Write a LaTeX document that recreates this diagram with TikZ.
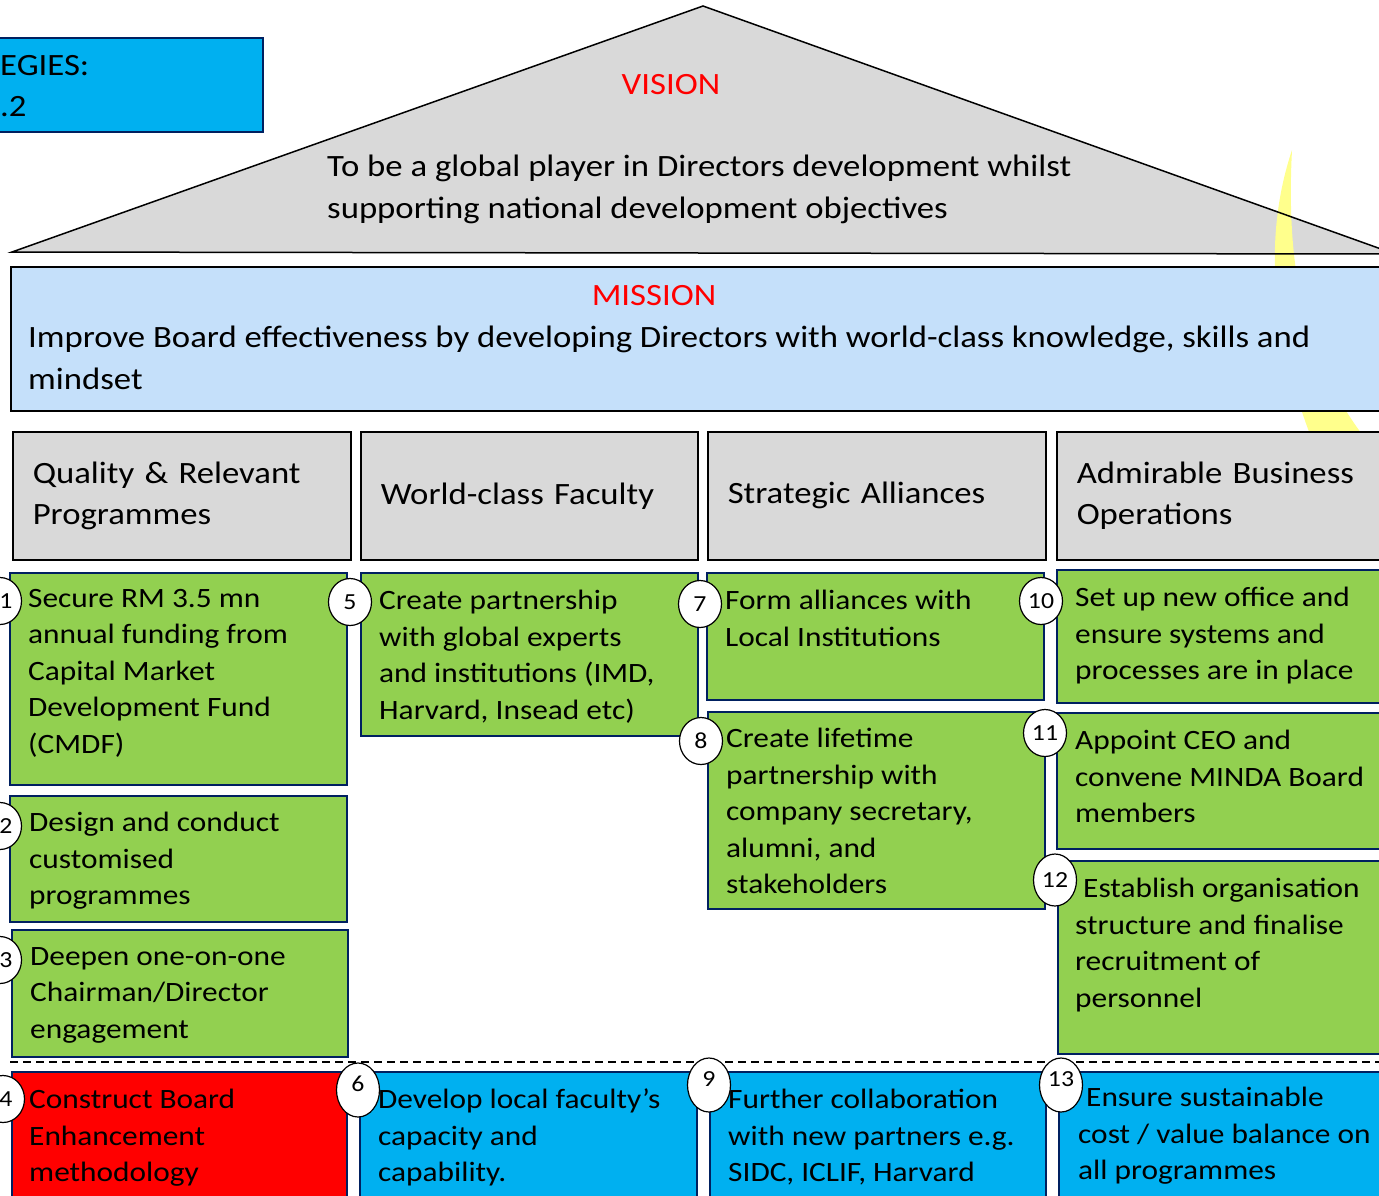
\documentclass[tikz,border=0pt]{standalone}
\usepackage{fontspec}
\setmainfont[FakeStretch=1.12]{Carlito}
\usetikzlibrary{shapes.geometric}
\definecolor{roofgray}{RGB}{217,217,217}
\definecolor{skyblue}{RGB}{197,224,250}
\definecolor{leaf}{RGB}{146,208,80}
\definecolor{cyanbox}{RGB}{0,176,240}
\definecolor{navy}{RGB}{0,32,96}
\definecolor{sun}{RGB}{255,255,140}
\tikzstyle{box}=[draw=navy,line width=2pt,anchor=north west,inner sep=0pt]
\tikzstyle{goal}=[box,fill=leaf]
\tikzstyle{later}=[box,fill=cyanbox]
\tikzstyle{urgent}=[box,fill=red]
\tikzstyle{pillar}=[draw,line width=1.5pt,fill=roofgray,anchor=north west,align=left,inner xsep=20pt,inner ysep=0pt,minimum height=128pt,font=\fontsize{31}{41}\selectfont]
\tikzstyle{txt}=[anchor=north west,inner sep=0pt,align=left,font=\fontsize{28}{36.5}\selectfont]
\tikzstyle{big}=[inner sep=0pt,align=left,font=\fontsize{31}{42}\selectfont]
\tikzstyle{num}=[ellipse,draw,fill=white,line width=1.2pt,minimum width=43pt,minimum height=47pt,inner sep=0pt,font=\fontsize{23}{23}\selectfont]
\tikzstyle{numtall}=[num,minimum height=54pt,text depth=12pt]

\begin{document}
\begin{tikzpicture}[x=1pt,y=-1pt]
\useasboundingbox (0,0) rectangle (1379,1195);
\clip (0,0) rectangle (1379,1195);

% roof with vision
\fill[roofgray] (12,252) -- (703,6) -- (1395,254) -- cycle;
\fill[sun] (1292,150) .. controls (1262,240) and (1272,340) .. (1316,450) -- (1374,450) .. controls (1318,380) and (1284,300) .. (1292,150);
\draw[line width=1.5pt] (12,252) -- (703,6) -- (1395,254) -- cycle;
\node[big,text=red] (vision) at (671,85) {VISION};
\node[big,anchor=north west] (visiontxt) at (327,155) {To be a global player in Directors development whilst\\supporting national development objectives};

% strategies tag
\node[box,fill=cyanbox,minimum width=272pt,minimum height=94pt] (tag) at (-10,37) {};
\node[big,anchor=west] (tag1) at (0,66) {EGIES:};
\node[big,anchor=west] (tag2) at (0,107) {.2};

% mission
\node[draw,line width=1.5pt,fill=skyblue,anchor=north west,minimum width=1390pt,minimum height=144pt] (mission) at (10,266) {};
\node[big,text=red] (missionhd) at (654,296) {MISSION};
\node[big,anchor=north west] (missiontxt) at ([shift={(18,60)}]mission.north west) {Improve Board effectiveness by developing Directors with world-class knowledge, skills and\\mindset};

% pillars
\node[pillar,text width=298pt] (p1) at (12,431) {Quality \& Relevant\\Programmes};
\node[pillar,text width=297pt] (p2) at (360,431) {World-class Faculty};
\node[pillar,text width=298pt] (p3) at (707,431) {Strategic Alliances};
\node[pillar,text width=300pt] (p4) at (1056,431) {Admirable Business\\Operations};

% green initiatives
\node[goal,minimum width=337pt,minimum height=212pt] (g1) at (9,572) {};
\node[txt] (t1) at ([shift={(19,17)}]g1.north west) {Secure RM 3.5 mn\\annual funding from\\Capital Market\\Development Fund\\(CMDF)};
\node[goal,minimum width=337pt,minimum height=126pt] (g2) at (9,795) {};
\node[txt] (t2) at ([shift={(20,17)}]g2.north west) {Design and conduct\\customised\\programmes};
\node[goal,minimum width=336pt,minimum height=127pt] (g3) at (11,929) {};
\node[txt] (t3) at ([shift={(19,18)}]g3.north west) {Deepen one-on-one\\Chairman/Director\\engagement};
\node[goal,minimum width=337pt,minimum height=163pt] (g5) at (360,572) {};
\node[txt] (t5) at ([shift={(19,18)}]g5.north west) {Create partnership\\with global experts\\and institutions (IMD,\\Harvard, Insead etc)};
\node[goal,minimum width=337pt,minimum height=127pt] (g7) at (706,572) {};
\node[txt] (t7) at ([shift={(19,18)}]g7.north west) {Form alliances with\\Local Institutions};
\node[goal,minimum width=337pt,minimum height=197pt] (g8) at (707,711) {};
\node[txt] (t8) at ([shift={(19,17)}]g8.north west) {Create lifetime\\partnership with\\company secretary,\\alumni, and\\stakeholders};
\node[goal,minimum width=340pt,minimum height=133pt] (g10) at (1056,569) {};
\node[txt] (t10) at ([shift={(19,18)}]g10.north west) {Set up new office and\\ensure systems and\\processes are in place};
\node[goal,minimum width=340pt,minimum height=136pt] (g11) at (1056,712) {};
\node[txt] (t11) at ([shift={(19,18)}]g11.north west) {Appoint CEO and\\convene MINDA Board\\members};
\node[goal,minimum width=340pt,minimum height=193pt] (g12) at (1057,860) {};
\node[txt] (t12) at ([shift={(18,18)}]g12.north west) {\hspace{8pt}Establish organisation\\structure and finalise\\recruitment of\\personnel};

% divider
\draw[line width=1.5pt,dash pattern=on 8pt off 5pt] (10,1062) -- (1379,1062);

% bottom row
\node[urgent,minimum width=335pt,minimum height=140pt] (r4) at (11,1071) {};
\node[txt] (t4) at ([shift={(18,18)}]r4.north west) {Construct Board\\Enhancement\\methodology};
\node[later,minimum width=337pt,minimum height=140pt] (b6) at (359,1071) {};
\node[txt] (t6) at ([shift={(19,18)}]b6.north west) {Develop local faculty’s\\capacity and\\capability.};
\node[later,minimum width=336pt,minimum height=140pt] (b9) at (709,1071) {};
\node[txt] (t9) at ([shift={(19,18)}]b9.north west) {Further collaboration\\with new partners e.g.\\SIDC, ICLIF, Harvard};
\node[later,minimum width=340pt,minimum height=140pt] (b13) at (1058,1071) {};
\node[txt] (t13) at ([shift={(20,16)}]b13.north west) {\hspace{8pt}Ensure sustainable\\cost / value balance on\\all programmes};

% numbers
\node[num] (n1) at (0,601) {\hspace{12pt}1};
\node[num] (n2) at (0,826) {\hspace{12pt}2};
\node[num] (n3) at (0,960) {\hspace{12pt}3};
\node[num] (n4) at (3,1099) {\hspace{6pt}4};
\node[num] (n5) at (350,602) {5};
\node[numtall] (n6) at (358,1090) {6};
\node[num] (n7) at (700,604) {7};
\node[num] (n8) at (701,741) {8};
\node[numtall] (n9) at (709,1085) {9};
\node[num] (n10) at (1041,601) {10};
\node[num] (n11) at (1045,733) {11};
\node[num,minimum height=52pt] (n12) at (1055,880) {12};
\node[numtall] (n13) at (1061,1085) {13};
\end{tikzpicture}
\end{document}
